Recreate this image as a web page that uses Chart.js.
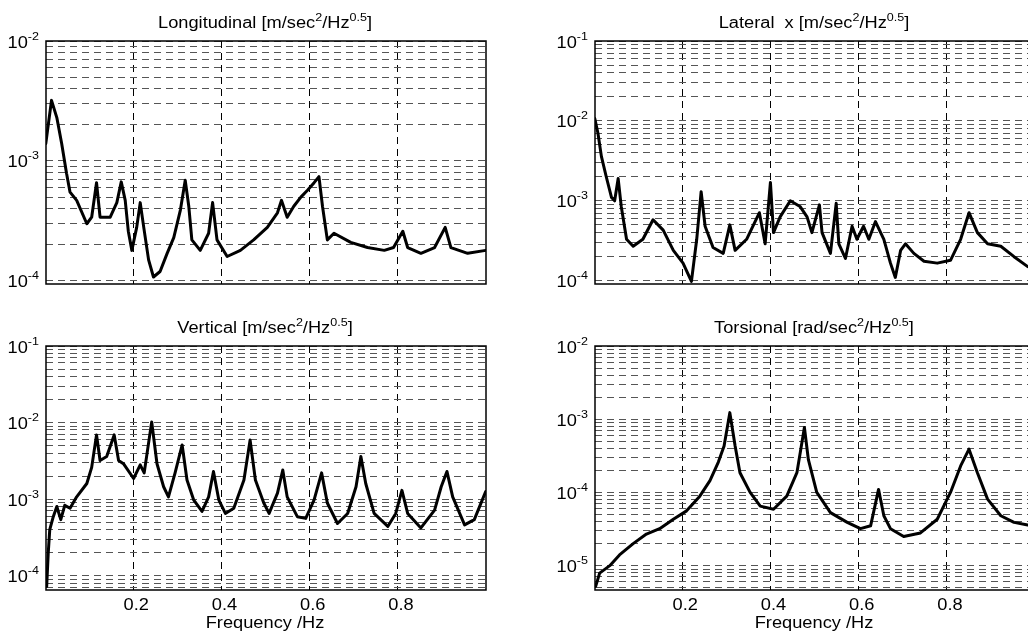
<!DOCTYPE html>
<html>
<head>
<meta charset="utf-8">
<title>Acceleration spectra</title>
<script src="https://cdn.jsdelivr.net/npm/chart.js@4.4.1/dist/chart.umd.min.js"></script>
<style>
  html, body { margin: 0; padding: 0; background: #fff; overflow: hidden; }
  body { position: relative; width: 1028px; height: 639px; }
  canvas { position: absolute; }
</style>
</head>
<body>
<canvas id="longChart" style="left:0;top:0;width:500px;height:300px" width="500" height="300"></canvas>
<canvas id="latChart" style="left:520px;top:0;width:530px;height:300px" width="530" height="300"></canvas>
<canvas id="vertChart" style="left:0;top:300px;width:500px;height:339px" width="500" height="339"></canvas>
<canvas id="torsChart" style="left:520px;top:300px;width:530px;height:339px" width="530" height="339"></canvas>
<script>
// x ticks (Hz)
const xTicks = [0.2, 0.4, 0.6, 0.8];
const xTickLabels = ["0.2", "0.4", "0.6", "0.8"];
const xLabel = "Frequency /Hz";

// Longitudinal [m/sec^2/Hz^0.5]
const longFreq = [0.002, 0.015, 0.027, 0.038, 0.049, 0.057, 0.072, 0.095, 0.106, 0.117,
  0.125, 0.148, 0.163, 0.173, 0.182, 0.189, 0.197, 0.208, 0.216, 0.224,
  0.235, 0.246, 0.261, 0.277, 0.292, 0.307, 0.318, 0.326, 0.333, 0.352,
  0.371, 0.380, 0.390, 0.413, 0.443, 0.473, 0.504, 0.527, 0.536, 0.549,
  0.564, 0.580, 0.595, 0.610, 0.621, 0.629, 0.640, 0.655, 0.693, 0.731,
  0.769, 0.790, 0.811, 0.822, 0.852, 0.883, 0.907, 0.920, 0.958, 0.999];
const longVal = [1.4e-3, 3.2e-3, 2.3e-3, 1.4e-3, 7.9e-4, 5.5e-4, 4.7e-4, 3.0e-4, 3.4e-4, 6.6e-4,
  3.4e-4, 3.4e-4, 4.5e-4, 6.7e-4, 4.7e-4, 2.6e-4, 1.8e-4, 2.8e-4, 4.5e-4, 2.8e-4,
  1.5e-4, 1.08e-4, 1.2e-4, 1.7e-4, 2.3e-4, 3.9e-4, 6.9e-4, 4.2e-4, 2.2e-4, 1.8e-4,
  2.5e-4, 4.5e-4, 2.2e-4, 1.6e-4, 1.8e-4, 2.2e-4, 2.8e-4, 3.7e-4, 4.7e-4, 3.4e-4,
  4.2e-4, 5.0e-4, 5.7e-4, 6.6e-4, 7.4e-4, 4.2e-4, 2.2e-4, 2.5e-4, 2.1e-4, 1.9e-4,
  1.8e-4, 1.9e-4, 2.6e-4, 1.9e-4, 1.7e-4, 1.9e-4, 2.8e-4, 1.9e-4, 1.7e-4, 1.8e-4];

// Lateral x [m/sec^2/Hz^0.5]
const latFreq = [0.002, 0.009, 0.017, 0.028, 0.040, 0.047, 0.055, 0.062, 0.074, 0.089,
  0.111, 0.134, 0.157, 0.180, 0.202, 0.221, 0.233, 0.243, 0.252, 0.270,
  0.293, 0.308, 0.320, 0.346, 0.375, 0.388, 0.400, 0.407, 0.422, 0.445,
  0.467, 0.483, 0.494, 0.511, 0.517, 0.536, 0.549, 0.555, 0.570, 0.585,
  0.596, 0.611, 0.623, 0.638, 0.657, 0.672, 0.683, 0.695, 0.706, 0.725,
  0.748, 0.778, 0.808, 0.831, 0.850, 0.869, 0.892, 0.922, 0.952, 0.983, 0.999];
const latVal = [1.07e-2, 7.1e-3, 3.6e-3, 2.0e-3, 1.1e-3, 1.0e-3, 1.9e-3, 8.5e-4, 3.3e-4, 2.7e-4,
  3.3e-4, 5.8e-4, 4.3e-4, 2.4e-4, 1.66e-4, 9.8e-5, 3.3e-4, 1.3e-3, 4.8e-4, 2.6e-4,
  2.2e-4, 5.0e-4, 2.4e-4, 3.3e-4, 7.1e-4, 2.9e-4, 1.7e-3, 4.0e-4, 6.3e-4, 1.0e-3,
  8.5e-4, 6.3e-4, 4.0e-4, 8.9e-4, 4.0e-4, 2.2e-4, 9.3e-4, 2.9e-4, 1.9e-4, 4.8e-4,
  3.3e-4, 4.8e-4, 3.3e-4, 5.5e-4, 3.3e-4, 1.66e-4, 1.1e-4, 2.4e-4, 2.9e-4, 2.2e-4,
  1.75e-4, 1.66e-4, 1.8e-4, 3.3e-4, 7.1e-4, 4.0e-4, 2.9e-4, 2.7e-4, 2.0e-4, 1.5e-4, 1.4e-4];

// Vertical [m/sec^2/Hz^0.5]
const vertFreq = [0.004, 0.0075, 0.011, 0.019, 0.027, 0.036, 0.045, 0.057, 0.072, 0.095,
  0.106, 0.117, 0.125, 0.140, 0.157, 0.167, 0.178, 0.201, 0.216, 0.225,
  0.242, 0.254, 0.269, 0.280, 0.295, 0.311, 0.322, 0.337, 0.356, 0.371,
  0.382, 0.394, 0.409, 0.428, 0.451, 0.465, 0.477, 0.496, 0.508, 0.527,
  0.539, 0.549, 0.572, 0.591, 0.610, 0.627, 0.640, 0.663, 0.686, 0.705,
  0.716, 0.727, 0.746, 0.777, 0.795, 0.809, 0.822, 0.852, 0.883, 0.898,
  0.911, 0.924, 0.951, 0.973, 0.999];
const vertVal = [7.2e-5, 1.95e-4, 4.0e-4, 5.9e-4, 8.0e-4, 5.4e-4, 8.3e-4, 7.6e-4, 1.07e-3, 1.6e-3,
  2.6e-3, 6.9e-3, 3.2e-3, 3.6e-3, 6.9e-3, 3.2e-3, 2.9e-3, 1.86e-3, 2.8e-3, 2.2e-3,
  1.02e-2, 2.9e-3, 1.45e-3, 1.07e-3, 2.2e-3, 5.1e-3, 1.78e-3, 9.8e-4, 6.9e-4, 1.07e-3,
  2.3e-3, 9.8e-4, 6.5e-4, 7.6e-4, 1.78e-3, 5.9e-3, 1.78e-3, 8.9e-4, 6.5e-4, 1.2e-3,
  2.4e-3, 1.07e-3, 5.9e-4, 5.6e-4, 9.8e-4, 2.2e-3, 8.9e-4, 4.8e-4, 6.5e-4, 1.45e-3,
  3.6e-3, 1.6e-3, 6.5e-4, 4.4e-4, 6.5e-4, 1.3e-3, 6.5e-4, 4.2e-4, 7.2e-4, 1.45e-3,
  2.3e-3, 1.07e-3, 4.6e-4, 5.4e-4, 1.26e-3];

// Torsional [rad/sec^2/Hz^0.5]
const torsFreq = [0.004, 0.013, 0.036, 0.058, 0.089, 0.119, 0.149, 0.180, 0.210, 0.240,
  0.263, 0.282, 0.295, 0.308, 0.320, 0.331, 0.354, 0.377, 0.407, 0.437,
  0.460, 0.477, 0.486, 0.505, 0.536, 0.574, 0.604, 0.627, 0.645, 0.657,
  0.672, 0.702, 0.740, 0.778, 0.808, 0.831, 0.850, 0.869, 0.892, 0.922,
  0.952, 0.983, 0.999];
const torsVal = [5.2e-6, 7.9e-6, 1.0e-5, 1.4e-5, 2.0e-5, 2.7e-5, 3.2e-5, 4.3e-5, 5.6e-5, 8.9e-5,
  1.45e-4, 2.6e-4, 4.3e-4, 1.23e-3, 4.3e-4, 1.86e-4, 1.0e-4, 6.5e-5, 5.9e-5, 8.9e-5,
  1.86e-4, 7.7e-4, 2.8e-4, 1.0e-4, 5.3e-5, 3.9e-5, 3.2e-5, 3.5e-5, 1.1e-4, 4.8e-5,
  3.2e-5, 2.5e-5, 2.8e-5, 4.3e-5, 1.0e-4, 2.3e-4, 3.9e-4, 1.86e-4, 8.1e-5, 4.8e-5,
  3.9e-5, 3.6e-5, 3.5e-5];

const X_MIN = 0.0025;
const X_MAX = 0.9995;
const FONT = '"Liberation Sans", Arial, Helvetica, sans-serif';
const SX = 1.14; // text in the figure is slightly wide

// draw a run of [text, isSuperscript] pieces
function drawRuns(ctx, runs, x, baseline, align, size, supSize, raise) {
  const fontOf = (sup) => (sup ? supSize : size) + "px " + FONT;
  let total = 0;
  runs.forEach(([t, sup]) => {
    ctx.font = fontOf(sup);
    total += ctx.measureText(t).width * SX;
  });
  let cur = align === "center" ? x - total / 2 : align === "right" ? x - total : x;
  ctx.textAlign = "left";
  ctx.textBaseline = "alphabetic";
  runs.forEach(([t, sup]) => {
    ctx.font = fontOf(sup);
    const w = ctx.measureText(t).width * SX;
    ctx.save();
    ctx.translate(cur, baseline - (sup ? raise : 0));
    ctx.scale(SX, 1);
    ctx.fillText(t, 0, 0);
    ctx.restore();
    cur += w;
  });
}

// minor log grid 1..9 x 10^n
function logGrid(min, max) {
  const out = [];
  for (let e = Math.floor(Math.log10(min)); e <= Math.ceil(Math.log10(max)); e++) {
    for (let m = 1; m <= 9; m++) {
      const v = m * Math.pow(10, e);
      if (v >= min * 0.999 && v <= max * 1.001) out.push({ value: v });
    }
  }
  return out;
}

function axesPlugin(p) {
  return {
    id: "matlabAxes",
    afterDraw(chart) {
      const { ctx, chartArea: a, scales } = chart;
      ctx.save();
      ctx.setLineDash([]);
      ctx.strokeStyle = "#000";
      ctx.lineWidth = 1.5;
      ctx.strokeRect(a.left, a.top, a.right - a.left, a.bottom - a.top);
      ctx.fillStyle = "#000";

      drawRuns(ctx, p.title, (a.left + a.right) / 2 - 1, a.top - 12.7, "center", 16, 11, 7);

      const eLo = Math.ceil(Math.log10(p.yMin) - 1e-9);
      const eHi = Math.floor(Math.log10(p.yMax) + 1e-9);
      for (let e = eLo; e <= eHi; e++) {
        const y = scales.y.getPixelForValue(Math.pow(10, e));
        drawRuns(ctx, [["10", false], ["-" + Math.abs(e), true]], a.left - 7, y + 6.5, "right", 16, 11, 8);
      }

      if (p.xLabels) {
        xTicks.forEach((v, i) => {
          const x = scales.x.getPixelForValue(v);
          drawRuns(ctx, [[xTickLabels[i], false]], x + 3, a.bottom + 20, "center", 16, 11, 0);
        });
        drawRuns(ctx, [[xLabel, false]], (a.left + a.right) / 2 - 1, a.bottom + 37.5, "center", 16, 11, 0);
      }
      ctx.restore();
    },
  };
}

const panels = [
  {
    id: "longChart",
    title: [["Longitudinal [m/sec", false], ["2", true], ["/Hz", false], ["0.5", true], ["]", false]],
    freq: longFreq, val: longVal, yMin: 9.44e-5, yMax: 1e-2,
    yWidth: 46, pad: { top: 41, right: 14, bottom: 16, left: 0 }, xLabels: false,
  },
  {
    id: "latChart",
    title: [["Lateral  x [m/sec", false], ["2", true], ["/Hz", false], ["0.5", true], ["]", false]],
    freq: latFreq, val: latVal, yMin: 9.1e-5, yMax: 1e-1,
    yWidth: 75, pad: { top: 41, right: 15, bottom: 16, left: 0 }, xLabels: false,
  },
  {
    id: "vertChart",
    title: [["Vertical [m/sec", false], ["2", true], ["/Hz", false], ["0.5", true], ["]", false]],
    freq: vertFreq, val: vertVal, yMin: 6.5e-5, yMax: 1e-1,
    yWidth: 46, pad: { top: 46, right: 14, bottom: 49, left: 0 }, xLabels: true,
  },
  {
    id: "torsChart",
    title: [["Torsional [rad/sec", false], ["2", true], ["/Hz", false], ["0.5", true], ["]", false]],
    freq: torsFreq, val: torsVal, yMin: 4.65e-6, yMax: 1e-2,
    yWidth: 75, pad: { top: 46, right: 15, bottom: 49, left: 0 }, xLabels: true,
  },
];

panels.forEach((p) => {
  const ctx = document.getElementById(p.id);
  new Chart(ctx, {
    type: "line",
    data: {
      datasets: [
        {
          data: p.freq.map((f, i) => ({ x: f, y: p.val[i] })),
          borderColor: "#000",
          borderWidth: 3,
          borderJoinStyle: "round",
          borderCapStyle: "round",
          pointRadius: 0,
          tension: 0,
          fill: false,
        },
      ],
    },
    options: {
      responsive: false,
      animation: false,
      events: [],
      layout: { padding: p.pad },
      plugins: { legend: { display: false }, tooltip: { enabled: false }, title: { display: false } },
      scales: {
        x: {
          type: "linear",
          min: X_MIN,
          max: X_MAX,
          afterBuildTicks: (s) => { s.ticks = xTicks.map((v) => ({ value: v })); },
          afterFit: (s) => { s.height = 0; },
          ticks: { display: false },
          grid: { color: "#000", lineWidth: 1, drawTicks: false },
          border: { display: false, dash: [7, 5] },
        },
        y: {
          type: "logarithmic",
          min: p.yMin,
          max: p.yMax,
          afterBuildTicks: (s) => { s.ticks = logGrid(p.yMin, p.yMax); },
          afterFit: (s) => { s.width = p.yWidth; },
          ticks: { display: false },
          grid: { color: "#555", lineWidth: 1, drawTicks: false },
          border: { display: false, dash: [7, 5] },
        },
      },
    },
    plugins: [axesPlugin(p)],
  });
});
</script>
</body>
</html>
